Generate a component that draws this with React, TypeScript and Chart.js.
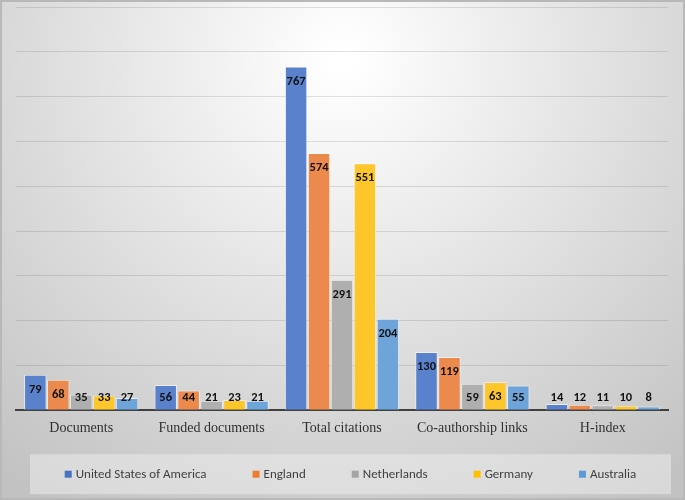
import React, { useEffect, useRef } from "react";
import { Chart, registerables } from "chart.js";

Chart.register(...registerables);

const categories = ["Documents", "Funded documents", "Total citations", "Co-authorship links", "H-index"];
const seriesNames = ["United States of America", "England", "Netherlands", "Germany", "Australia"];
const usa = [79, 56, 767, 130, 14];
const england = [68, 44, 574, 119, 12];
const netherlands = [35, 21, 291, 59, 11];
const germany = [33, 23, 551, 63, 10];
const australia = [27, 21, 204, 55, 8];
const seriesValues = [usa, england, netherlands, germany, australia];
const colors = ["#5a82cc", "#ec8a4e", "#afafaf", "#fdc62a", "#6ea4da"];
const legendColors = ["#4472c4", "#ed7d31", "#a5a5a5", "#ffc000", "#5b9bd5"];
const yMax = 900;
const yStep = 100;

const LABEL_FONT = "bold 12.5px Carlito, Lato, sans-serif";
const LEGEND_FONT = "13px Carlito, Lato, sans-serif";

const bgPlugin = {
  id: "bg",
  beforeDraw(chart: any) {
    const { ctx, width, height } = chart;
    ctx.save();
    const g = ctx.createRadialGradient(width / 2, height * 0.12, 10, width / 2, height * 0.12, width * 0.78);
    g.addColorStop(0, "#ffffff");
    g.addColorStop(1, "#c2c2c2");
    ctx.fillStyle = g;
    ctx.fillRect(0, 0, width, height);
    ctx.strokeStyle = "#b8b8b8";
    ctx.lineWidth = 2;
    ctx.strokeRect(1, 1, width - 2, height - 2);
    ctx.restore();
  },
};

const labelPlugin = {
  id: "barLabels",
  afterDatasetsDraw(chart: any) {
    const { ctx } = chart;
    ctx.save();
    ctx.font = LABEL_FONT;
    ctx.fillStyle = "#111111";
    ctx.textAlign = "center";
    ctx.textBaseline = "middle";
    chart.data.datasets.forEach((ds: any, di: number) => {
      const meta = chart.getDatasetMeta(di);
      meta.data.forEach((bar: any, i: number) => {
        const y = Math.min(bar.y + 15, bar.base - 12);
        ctx.fillText(String(ds.data[i]), bar.x, y);
      });
    });
    ctx.restore();
  },
};

const legendPlugin = {
  id: "customLegend",
  afterDraw(chart: any) {
    const { ctx, chartArea } = chart;
    const boxLeft = chartArea.left + 14;
    const boxRight = chartArea.right + 3;
    const boxTop = chartArea.bottom + 44;
    const boxH = 40;
    ctx.save();
    ctx.fillStyle = "rgba(235,235,235,0.55)";
    ctx.fillRect(boxLeft, boxTop, boxRight - boxLeft, boxH);
    ctx.font = LEGEND_FONT;
    const sq = 7;
    const gapText = 4;
    const gapItem = 46;
    const widths = seriesNames.map((n) => sq + gapText + ctx.measureText(n).width);
    const total = widths.reduce((a, b) => a + b, 0) + gapItem * (widths.length - 1);
    let x = (boxLeft + boxRight) / 2 - total / 2;
    const cy = boxTop + boxH / 2;
    ctx.textBaseline = "middle";
    ctx.textAlign = "left";
    seriesNames.forEach((n, i) => {
      ctx.fillStyle = legendColors[i];
      ctx.fillRect(x, cy - sq / 2, sq, sq);
      ctx.fillStyle = "#404040";
      ctx.fillText(n, x + sq + gapText, cy + 1);
      x += widths[i] + gapItem;
    });
    ctx.restore();
  },
};

export default function App() {
  const ref = useRef<HTMLCanvasElement>(null);
  useEffect(() => {
    document.body.style.margin = "0";
    const chart = new Chart(ref.current!, {
      type: "bar",
      data: {
        labels: categories,
        datasets: seriesNames.map((name, i) => ({
          label: name,
          data: seriesValues[i],
          backgroundColor: colors[i],
          borderColor: "rgba(255,255,255,0.55)",
          borderWidth: 1,
          categoryPercentage: 0.88,
          barPercentage: 0.98,
        })),
      },
      options: {
        animation: false,
        responsive: false,
        maintainAspectRatio: false,
        layout: { padding: { top: 7, left: 16, right: 17, bottom: 61 } },
        plugins: {
          legend: { display: false },
          tooltip: { enabled: false },
        },
        scales: {
          x: {
            grid: { display: false },
            border: { display: true, color: "#404040", width: 2 },
            ticks: {
              padding: 2,
              color: "#303030",
              font: { family: "'Liberation Serif', 'Times New Roman', serif", size: 14 },
            },
          },
          y: {
            min: 0,
            max: yMax,
            ticks: { display: false, stepSize: yStep },
            border: { display: false },
            grid: {
              drawTicks: false,
              color: (c: any) => (c.tick && c.tick.value === 0 ? "rgba(0,0,0,0)" : "rgba(0,0,0,0.11)"),
              lineWidth: 1,
            },
          },
        },
      },
      plugins: [bgPlugin, labelPlugin, legendPlugin],
    });
    return () => chart.destroy();
  }, []);
  return (
    <div style={{ width: 685, height: 500 }}>
      <canvas ref={ref} width={685} height={500} style={{ display: "block" }} />
    </div>
  );
}
